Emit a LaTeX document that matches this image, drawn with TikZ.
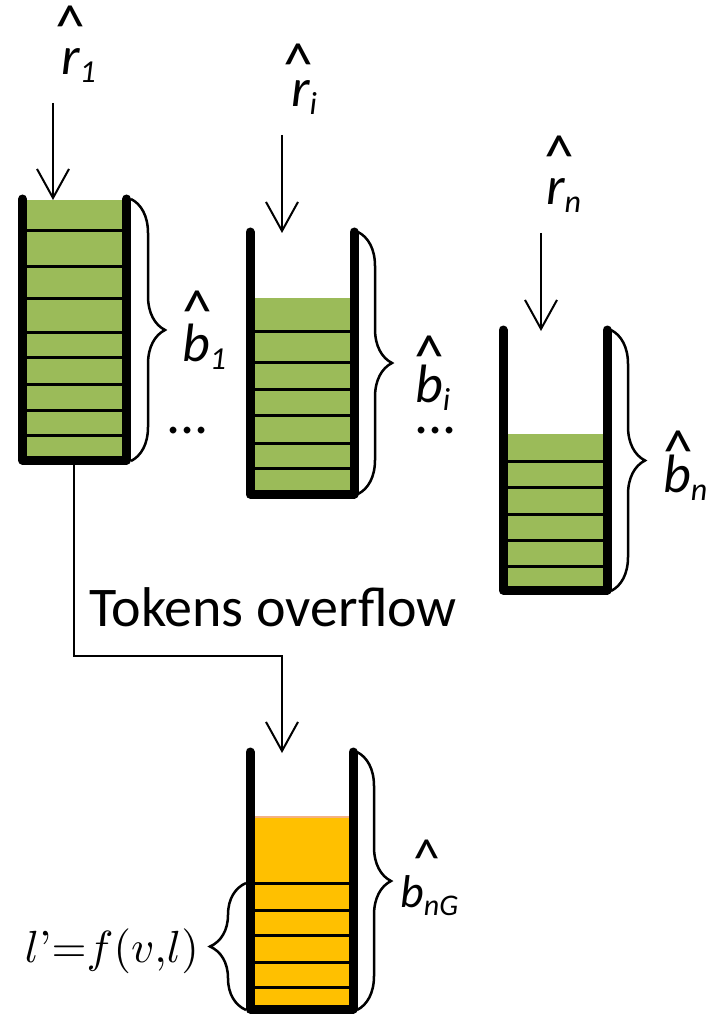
\documentclass[tikz,border=0pt]{standalone}
\usepackage{graphicx}
\usepackage{fontspec}
\newfontfamily\calfont{Carlito}
\usetikzlibrary{arrows.meta,decorations.pathreplacing}
\definecolor{tokgreen}{HTML}{9BBB59}
\definecolor{tokorange}{HTML}{FFC000}
\definecolor{tokedge}{HTML}{F4B183}
\newcommand\symlbl[2]{{\calfont\itshape\fontsize{54}{54}\selectfont #1\raisebox{-8pt}{\fontsize{32}{32}\selectfont #2}}}
\newcommand\symlblsm[2]{{\calfont\itshape\fontsize{46}{46}\selectfont #1\raisebox{-8pt}{\fontsize{30}{30}\selectfont #2}}}
\begin{document}
\begin{tikzpicture}[x=1pt,y=-1pt,
  wall/.style={line width=9pt,line cap=round,line join=round},
  divider/.style={line width=3pt},
  feed/.style={line width=2pt,-{Straight Barb[length=29pt,width=32pt,line width=2pt]}},
  bucketbrace/.style={line width=2.5pt,decorate,decoration={brace,amplitude=34pt}},
  hatmark/.style={anchor=north,inner sep=0pt,font=\calfont\fontsize{60}{60}\selectfont},
  sym/.style={anchor=base west,inner sep=0pt},
  plain/.style={inner sep=0pt,font=\calfont\fontsize{56}{62}\selectfont}]
\useasboundingbox (0,0) rectangle (705,1016);

% ---- bucket 1 (full) ----
\fill[tokgreen] (22.5,200) rectangle (126.5,460);
\foreach \y in {231,266,298,332,357,384,410,435}
  \draw[divider] (22.5,\y) -- (126.5,\y);
\draw[wall] (22.5,199) -- (22.5,460) -- (126.5,460) -- (126.5,199);
\coordinate (b1in) at (53,200);
\coordinate (b1out) at (74,464);
\coordinate (r1src) at (53,103);
\draw[bucketbrace] (131,199) -- (131,461);
\node[sym] (r1) at (61,75) {\symlbl{r}{1}};
\node[hatmark] (r1hat) at (70,6) {\^{}};
\node[sym] (b1) at (182,361) {\symlbl{b}{1}};
\node[hatmark] (b1hat) at (197,291) {\^{}};
\node[plain,anchor=base west] (dots1) at (166,433) {...};
\draw[feed] (r1src) -- (b1in);

% ---- bucket i ----
\fill[tokgreen] (250,298) rectangle (354,494);
\foreach \y in {331,362,389,415,443,468}
  \draw[divider] (250,\y) -- (354,\y);
\draw[wall] (250,232) -- (250,494) -- (354,494) -- (354,232);
\coordinate (biin) at (282,233);
\coordinate (risrc) at (282,135);
\draw[bucketbrace] (358,232) -- (358,494);
\node[sym] (ri) at (291,107) {\symlbl{r}{i}};
\node[hatmark] (rihat) at (298,44) {\^{}};
\node[sym] (bi) at (415,402) {\symlbl{b}{i}};
\node[hatmark] (bihat) at (429,336) {\^{}};
\node[plain,anchor=base west] (dotsi) at (414,433) {...};
\draw[feed] (risrc) -- (biin);

% ---- bucket n ----
\fill[tokgreen] (503,434) rectangle (607,590);
\foreach \y in {461,487,514,540,566}
  \draw[divider] (503,\y) -- (607,\y);
\draw[wall] (503,330) -- (503,590) -- (607,590) -- (607,330);
\coordinate (bnin) at (541,331);
\coordinate (rnsrc) at (541,233);
\draw[bucketbrace] (611,330) -- (611,591);
\node[sym] (rn) at (546,205) {\symlbl{r}{n}};
\node[hatmark] (rnhat) at (559,136) {\^{}};
\node[sym] (bn) at (663,492) {\symlbl{b}{n}};
\node[hatmark] (bnhat) at (678,431) {\^{}};
\draw[feed] (rnsrc) -- (bnin);

% ---- shared bucket G ----
\fill[tokorange] (250,817) rectangle (353,1009);
\draw[tokedge,line width=2pt] (250,817) -- (353,817);
\foreach \y in {883,910,935,962,987}
  \draw[divider] (250,\y) -- (353,\y);
\draw[wall] (250,752) -- (250,1009) -- (353,1009) -- (353,752);
\coordinate (bGin) at (282,753);
\draw[bucketbrace] (357,752) -- (357,1010);
\draw[bucketbrace,decoration={brace,amplitude=36pt}] (246,1010) -- (246,883);
\node[sym] (bG) at (400,907) {\symlblsm{b}{nG}};
\node[hatmark,font=\calfont\fontsize{54}{54}\selectfont] (bGhat) at (427,840) {\^{}};
\node[inner sep=0pt,anchor=east] (lvl) at (199,951) {\scalebox{4.5}{$l\mbox{’}{=}f(v{,}l)$}};

% ---- overflow path ----
\coordinate (bend) at (74,656);
\node[plain,anchor=base west] (ovf) at (89,626) {Tokens overflow};
\draw[feed] (b1out) -- (bend) -| (bGin);
\end{tikzpicture}
\end{document}
